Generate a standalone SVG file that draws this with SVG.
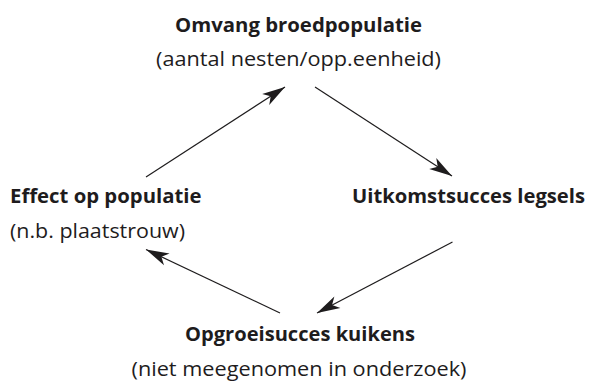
<svg xmlns="http://www.w3.org/2000/svg" width="589" height="382" viewBox="0 0 589 382">
  <defs>
    <style>
      .t { font-family: "Open Sans", "Noto Sans", "Liberation Sans", sans-serif; font-size: 20px; fill: #1e1c1d; }
      .b { font-weight: 700; }
      .c { text-anchor: middle; }
      .arrow { stroke: #1e1c1d; stroke-width: 1.2; fill: none; marker-end: url(#head); }
    </style>
    <marker id="head" markerUnits="userSpaceOnUse" viewBox="-24 -8 26 16" refX="0" refY="0" markerWidth="26" markerHeight="16" orient="auto">
      <path d="M0,0 L-23,-6.5 L-17,0 L-23,6.5 Z" fill="#1e1c1d"/>
    </marker>
  </defs>
  <rect width="589" height="382" fill="#ffffff"/>
  <g id="connectors">
    <line class="arrow" x1="146" y1="177" x2="285" y2="87"/>
    <line class="arrow" x1="315" y1="87" x2="452" y2="176"/>
    <line class="arrow" x1="452.5" y1="242" x2="317" y2="313"/>
    <line class="arrow" x1="280" y1="313" x2="146" y2="249.5"/>
  </g>
  <g id="node-broedpopulatie">
    <text class="t b c" x="298.5" y="31.5" textLength="247" lengthAdjust="spacingAndGlyphs">Omvang broedpopulatie</text>
    <text class="t c" x="298.5" y="65.5" textLength="285" lengthAdjust="spacingAndGlyphs">(aantal nesten/opp.eenheid)</text>
  </g>
  <g id="node-uitkomstsucces">
    <text class="t b" x="352" y="203" textLength="233" lengthAdjust="spacingAndGlyphs">Uitkomstsucces legsels</text>
  </g>
  <g id="node-opgroeisucces">
    <text class="t b c" x="300" y="341" textLength="230" lengthAdjust="spacingAndGlyphs">Opgroeisucces kuikens</text>
    <text class="t c" x="299" y="376" textLength="335" lengthAdjust="spacingAndGlyphs">(niet meegenomen in onderzoek)</text>
  </g>
  <g id="node-effect">
    <text class="t b" x="10" y="203" textLength="191.5" lengthAdjust="spacingAndGlyphs">Effect op populatie</text>
    <text class="t" x="10" y="238" textLength="175" lengthAdjust="spacingAndGlyphs">(n.b. plaatstrouw)</text>
  </g>
</svg>
